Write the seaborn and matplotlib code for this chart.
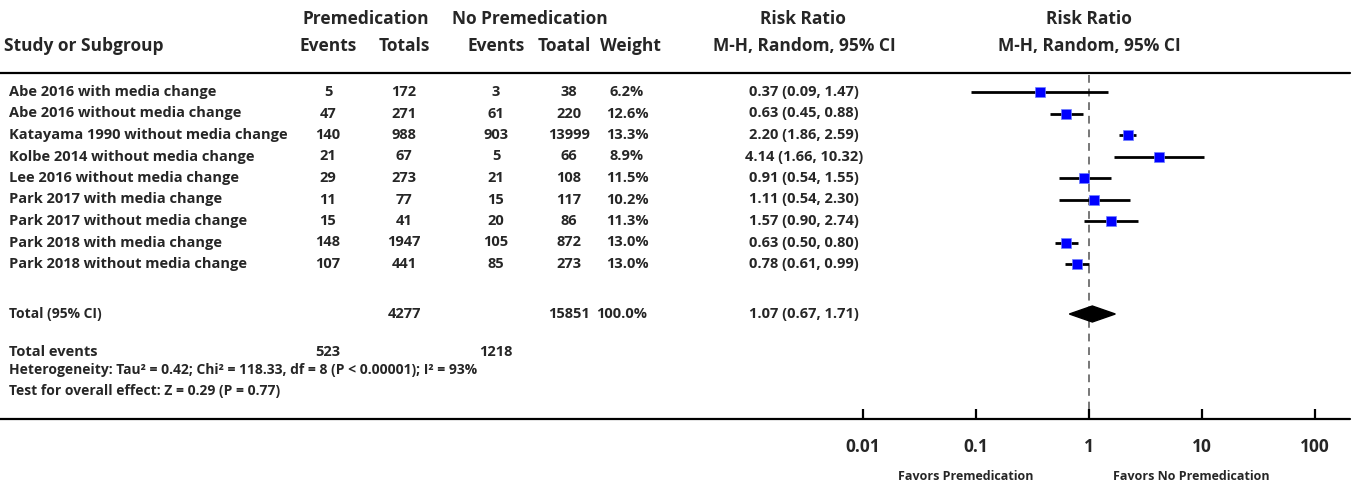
import numpy as np
import matplotlib.pyplot as plt
import seaborn as sns

studies = [
    "Abe 2016 with media change",
    "Abe 2016 without media change",
    "Katayama 1990 without media change",
    "Kolbe 2014 without media change",
    "Lee 2016 without media change",
    "Park 2017 with media change",
    "Park 2017 without media change",
    "Park 2018 with media change",
    "Park 2018 without media change",
]
pre_events = [5, 47, 140, 21, 29, 11, 15, 148, 107]
pre_totals = [172, 271, 988, 67, 273, 77, 41, 1947, 441]
nopre_events = [3, 61, 903, 5, 21, 15, 20, 105, 85]
nopre_totals = [38, 220, 13999, 66, 108, 117, 86, 872, 273]
weights = [6.2, 12.6, 13.3, 8.9, 11.5, 10.2, 11.3, 13.0, 13.0]
rr = [0.37, 0.63, 2.20, 4.14, 0.91, 1.11, 1.57, 0.63, 0.78]
ci_low = [0.09, 0.45, 1.86, 1.66, 0.54, 0.54, 0.90, 0.50, 0.61]
ci_high = [1.47, 0.88, 2.59, 10.32, 1.55, 2.30, 2.74, 0.80, 0.99]

total_pre, total_nopre = 4277, 15851
events_pre, events_nopre = 523, 1218
total_rr, total_low, total_high = 1.07, 0.67, 1.71
axis_ticks = [0.01, 0.1, 1, 10, 100]

W, H = 1360, 487
sns.set_style("white")
plt.rcParams["font.family"] = ["Open Sans", "DejaVu Sans"]

fig = plt.figure(figsize=(W / 100, H / 100), dpi=100)
ax = fig.add_axes([0, 0, 1, 1])
ax.set_xlim(0, W)
ax.set_ylim(H, 0)
ax.axis("off")

# column centres (pixels)
c_ev1, c_tot1, c_ev2, c_tot2, c_w, c_rr = 328, 404, 496, 569, 627, 804
hdr = dict(fontsize=12.5, fontweight="bold", va="center")
row = dict(fontsize=10.5, fontweight="bold", va="center")

ax.text(366, 19, "Premedication", ha="center", **hdr)
ax.text(530, 19, "No Premedication", ha="center", **hdr)
ax.text(803, 19, "Risk Ratio", ha="center", **hdr)
ax.text(1089, 19, "Risk Ratio", ha="center", **hdr)
ax.text(4, 46, "Study or Subgroup", ha="left", **hdr)
for x, s in [(c_ev1, "Events"), (c_tot1, "Totals"), (c_ev2, "Events"),
             (564, "Toatal"), (630, "Weight"), (c_rr, "M-H, Random, 95% CI"),
             (1089, "M-H, Random, 95% CI")]:
    ax.text(x, 46, s, ha="center", **hdr)

ax.plot([0, 1350], [73, 73], color="black", lw=1.6)
ax.plot([0, 1350], [419, 419], color="black", lw=1.6)

ys = [92 + 21.5 * i for i in range(len(studies))]
for i, y in enumerate(ys):
    ax.text(9, y, studies[i], ha="left", **row)
    ax.text(c_ev1, y, str(pre_events[i]), ha="center", **row)
    ax.text(c_tot1, y, str(pre_totals[i]), ha="center", **row)
    ax.text(c_ev2, y, str(nopre_events[i]), ha="center", **row)
    ax.text(c_tot2, y, str(nopre_totals[i]), ha="center", **row)
    ax.text(c_w, y, f"{weights[i]:.1f}%", ha="center", **row)
    ax.text(c_rr, y, f"{rr[i]:.2f} ({ci_low[i]:.2f}, {ci_high[i]:.2f})", ha="center", **row)

y_tot = 314
ax.text(9, y_tot, "Total (95% CI)", ha="left", fontsize=10, fontweight="bold", va="center")
ax.text(c_tot1, y_tot, str(total_pre), ha="center", **row)
ax.text(c_tot2, y_tot, str(total_nopre), ha="center", **row)
ax.text(c_w - 5, y_tot, f"{sum(weights):.1f}%", ha="center", **row)
ax.text(c_rr, y_tot, f"{total_rr:.2f} ({total_low:.2f}, {total_high:.2f})", ha="center", **row)

ax.text(9, 352, "Total events", ha="left", **row)
ax.text(c_ev1, 352, str(events_pre), ha="center", **row)
ax.text(c_ev2, 352, str(events_nopre), ha="center", **row)
ax.text(9, 370, "Heterogeneity: Tau\u00b2 = 0.42; Chi\u00b2 = 118.33, df = 8 (P < 0.00001); I\u00b2 = 93%",
        ha="left", fontsize=10, fontweight="bold", va="center")
ax.text(9, 391, "Test for overall effect: Z = 0.29 (P = 0.77)",
        ha="left", fontsize=10, fontweight="bold", va="center")

# forest panel, log x, same pixel y
P1, D = 1089, 113
L, R = 840, 1350
fx = fig.add_axes([L / W, 0, (R - L) / W, 1])
fx.set_xscale("log")
fx.set_xlim(10 ** ((L - P1) / D), 10 ** ((R - P1) / D))
fx.set_ylim(H, 0)
fx.axis("off")

fx.plot([1, 1], [75, 416], color="#777777", lw=1.4, ls=(0, (4, 3)))
fx.hlines(ys, ci_low, ci_high, color="black", lw=2)
sns.scatterplot(x=rr, y=ys, ax=fx, marker="s", s=46, color="#0000ff",
                edgecolor="#6f7fff", linewidth=0.5, zorder=3, legend=False)
fx.fill([total_low, total_rr, total_high, total_rr],
        [y_tot, y_tot - 8, y_tot, y_tot + 8], color="black", zorder=3)

fx.vlines(axis_ticks, 409, 419, color="black", lw=1.6)
for t in axis_ticks:
    fx.text(t, 447, f"{t:g}", ha="center", va="center", fontsize=12.5, fontweight="bold")
ax.text(1033, 476, "Favors Premedication", ha="right", fontsize=9, fontweight="bold", va="center")
ax.text(1113, 476, "Favors No Premedication", ha="left", fontsize=9, fontweight="bold", va="center")

fig.savefig("out.png", dpi=100)
